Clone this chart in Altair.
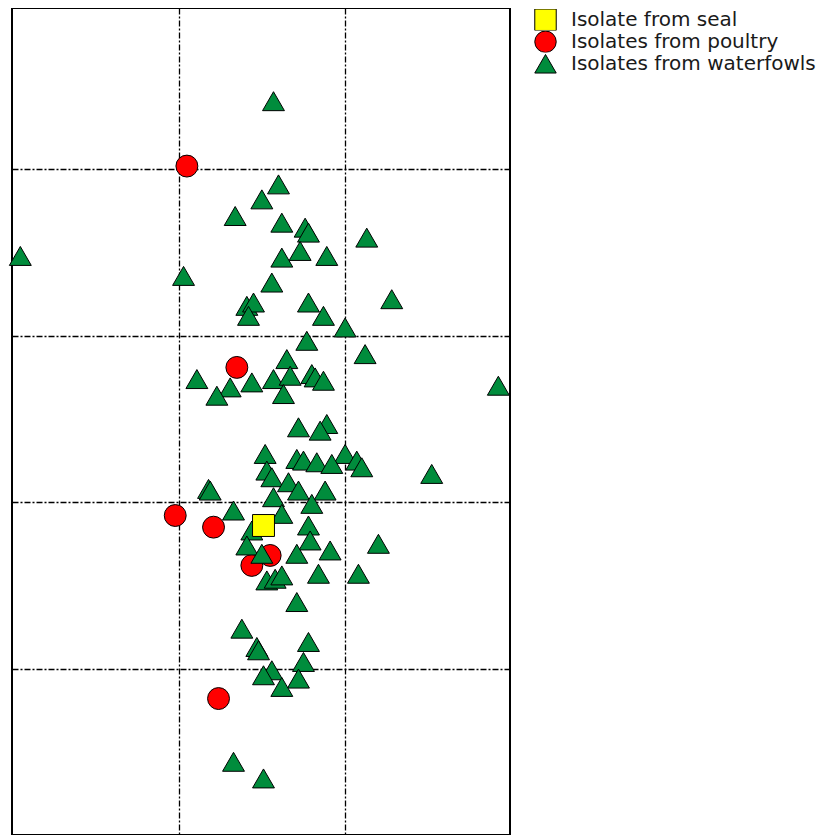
import altair as alt
import pandas as pd

# Values (x domain ~0..3, y domain ~0..5; grid at 1-unit steps)
poultry_x = [1.05, 1.35, 0.98, 1.21, 1.55, 1.44, 1.24]
poultry_y = [4.02, 2.81, 1.92, 1.85, 1.68, 1.62, 0.82]

waterfowl_x = [1.57, 1.60, 1.50, 1.34, 1.62, 1.76, 1.78, 2.13, 1.73, 1.62,
               1.89, 0.05, 1.03, 1.56, 2.28, 1.41, 1.45, 1.78, 1.42, 1.87,
               2.00, 1.77, 2.12, 1.65, 1.11, 1.31, 1.23, 1.44, 1.57, 1.67,
               1.80, 1.82, 1.87, 1.63, 2.92, 1.72, 1.89, 1.85, 1.52, 2.00,
               2.07, 2.10, 2.52, 1.71, 1.75, 1.83, 1.92, 1.53, 1.56, 1.66,
               1.18, 1.19, 1.72, 1.88, 1.57, 1.80, 1.33, 1.62, 1.44, 1.78,
               1.79, 1.91, 1.71, 2.20, 1.41, 1.50, 1.84, 2.08, 1.53, 1.58,
               1.62, 1.71, 1.38, 1.47, 1.48, 1.78, 1.75, 1.56, 1.51, 1.72,
               1.62, 1.33, 1.51]
waterfowl_y = [4.41, 3.91, 3.82, 3.72, 3.68, 3.65, 3.62, 3.59, 3.51, 3.47,
               3.48, 3.48, 3.36, 3.32, 3.22, 3.18, 3.20, 3.20, 3.12, 3.12,
               3.05, 2.97, 2.89, 2.86, 2.74, 2.69, 2.64, 2.72, 2.74, 2.76,
               2.77, 2.75, 2.73, 2.65, 2.70, 2.45, 2.47, 2.43, 2.29, 2.29,
               2.25, 2.21, 2.17, 2.26, 2.25, 2.24, 2.23, 2.19, 2.15, 2.12,
               2.08, 2.07, 2.07, 2.07, 2.03, 1.99, 1.95, 1.93, 1.83, 1.86,
               1.77, 1.71, 1.69, 1.75, 1.74, 1.69, 1.57, 1.57, 1.53, 1.54,
               1.56, 1.40, 1.24, 1.13, 1.11, 1.16, 1.04, 0.99, 0.96, 0.94,
               0.89, 0.44, 0.34]

seal_x = [1.51]
seal_y = [1.86]

categories = ["Isolate from seal", "Isolates from poultry", "Isolates from waterfowls"]
colors = ["#FFFF00", "#FF0000", "#008C3C"]
shapes = ["square", "circle", "triangle-up"]
outline = ["black", "black", "black"]

rows = []
for x, y in zip(poultry_x, poultry_y):
    rows.append({"x": x, "y": y, "group": categories[1]})
for x, y in zip(waterfowl_x, waterfowl_y):
    rows.append({"x": x, "y": y, "group": categories[2]})
for x, y in zip(seal_x, seal_y):
    rows.append({"x": x, "y": y, "group": categories[0]})
df = pd.DataFrame(rows)

grid_dash = [6, 2, 2, 2]

legend = alt.Legend(title=None, orient="none", legendX=522, legendY=1,
                    symbolSize=460, symbolStrokeWidth=1, symbolOpacity=1,
                    labelFont="DejaVu Sans", labelFontSize=20, labelLimit=0,
                    labelColor="#1a1a1a", labelOffset=14,
                    rowPadding=0, clipHeight=21.5, padding=0)

chart = alt.Chart(df).mark_point(
    filled=True, size=480, strokeWidth=1, opacity=1
).encode(
    x=alt.X("x:Q", scale=alt.Scale(domain=[0, 2.99], nice=False, zero=False),
            axis=alt.Axis(labels=False, ticks=False, domain=False, title=None,
                          grid=True, values=[1, 2], gridColor="black",
                          gridDash=grid_dash, gridWidth=1.3, gridOpacity=1)),
    y=alt.Y("y:Q", scale=alt.Scale(domain=[0, 4.97], nice=False, zero=False),
            axis=alt.Axis(labels=False, ticks=False, domain=False, title=None,
                          grid=True, values=[1, 2, 3, 4], gridColor="black",
                          gridDash=grid_dash, gridWidth=1.3, gridOpacity=1)),
    fill=alt.Fill("group:N", scale=alt.Scale(domain=categories, range=colors),
                  legend=legend),
    shape=alt.Shape("group:N", scale=alt.Scale(domain=categories, range=shapes),
                    legend=legend),
    stroke=alt.Stroke("group:N", scale=alt.Scale(domain=categories, range=outline),
                      legend=legend),
).properties(
    width=498, height=827,
    autosize=alt.AutoSizeParams(type="none"),
    padding={"left": 4, "top": 0, "right": 310, "bottom": 0},
).configure_view(
    stroke="black", strokeWidth=2
)

chart.save("out.html", embed_options={"renderer": "svg", "actions": False})
